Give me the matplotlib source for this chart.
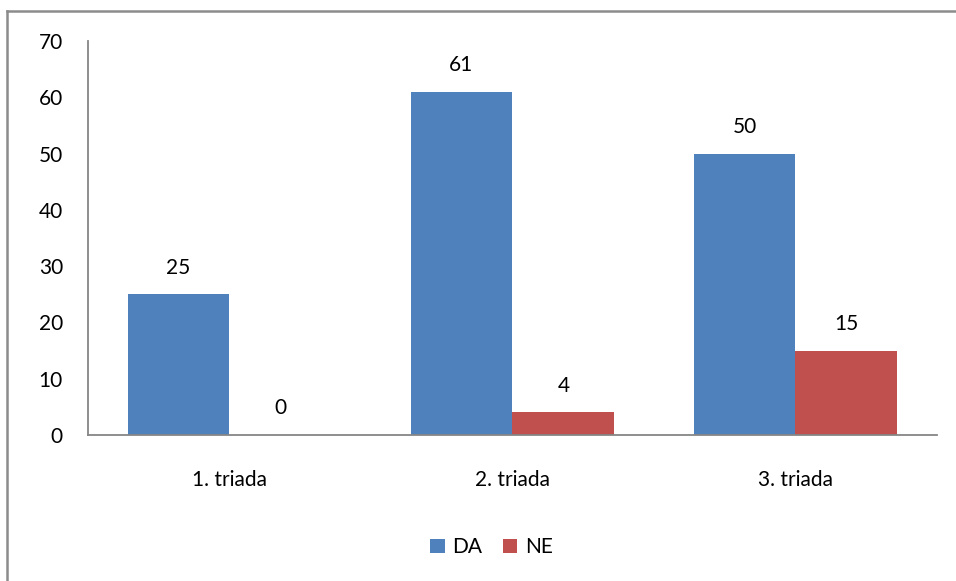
import matplotlib.pyplot as plt
from matplotlib.lines import Line2D
import numpy as np

# podatki
categories = ["1. triada", "2. triada", "3. triada"]
da_values = [25, 61, 50]
ne_values = [0, 4, 15]
series_names = ["DA", "NE"]

plt.rcParams['font.family'] = ['Lato', 'DejaVu Sans']
fs = 15

fig = plt.figure(figsize=(9.56, 5.81), dpi=100)
ax = fig.add_axes([0.092, 0.2513, 0.888, 0.6781])

# okvir (vidna sta samo levi in zgornji rob)
fig.lines.append(Line2D([0.0075, 0.0075], [-0.1, 0.981], transform=fig.transFigure,
                        color='#8c8c8c', linewidth=1.8))
fig.lines.append(Line2D([0.0075, 1.1], [0.981, 0.981], transform=fig.transFigure,
                        color='#8c8c8c', linewidth=1.8))

x = np.arange(len(categories))
w = 0.36
b1 = ax.bar(x - w / 2, da_values, w, color='#4F81BD', label=series_names[0])
b2 = ax.bar(x + w / 2, ne_values, w, color='#C0504D', label=series_names[1])
ax.bar_label(b1, padding=12, fontsize=fs)
ax.bar_label(b2, padding=12, fontsize=fs)

ax.set_xlim(-0.5, 2.5)
ax.set_ylim(0, 70)
ax.set_yticks(range(0, 71, 10))
ax.set_xticks(x)
ax.set_xticklabels(categories)
ax.tick_params(axis='y', length=0, pad=18, labelsize=fs)
ax.tick_params(axis='x', length=0, pad=25, labelsize=fs)

for s in ['top', 'right']:
    ax.spines[s].set_visible(False)
for s in ['left', 'bottom']:
    ax.spines[s].set_color('#868686')
    ax.spines[s].set_linewidth(1.3)

fig.legend(loc='center', bbox_to_anchor=(0.514, 0.058), ncol=2, frameon=False,
           fontsize=fs, handlelength=0.7, handleheight=0.7, handletextpad=0.35,
           columnspacing=1.0)

fig.savefig('out.png', dpi=100)
